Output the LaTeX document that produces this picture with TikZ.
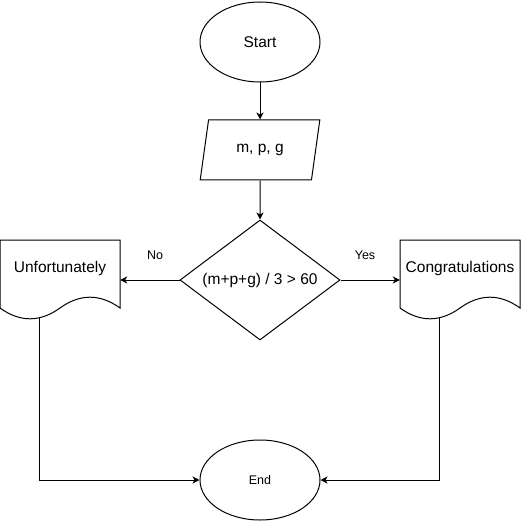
\documentclass[tikz,border=0pt]{standalone}
\usepackage{fontspec}
\setmainfont{Liberation Sans}
\usetikzlibrary{shapes.geometric,arrows.meta,calc}

% Document symbol: flat top, wavy bottom edge (120 x 80 box around the node centre)
\newcommand{\docwave}[1]{%
  \draw[shape line, shift={(#1.center)}]
    (-60,-40) -- (60,-40) -- (60,28)
    .. controls (40,13.6) and (20,13.6) .. (0,28)
    .. controls (-20,42.4) and (-40,42.4) .. (-60,28) -- cycle;}

\begin{document}
\begin{tikzpicture}[x=1pt,y=-1pt,
  shape line/.style={draw=black, line width=1pt},
  bigtext/.style={font=\fontsize{15.5}{18}\selectfont},
  smalltext/.style={font=\fontsize{12.5}{15}\selectfont},
  terminal/.style={ellipse, shape line, minimum width=120, minimum height=80, inner sep=0pt},
  iobox/.style={trapezium, trapezium stretches=true, shape line,
    trapezium left angle=71.565, trapezium right angle=108.435,
    minimum width=120, minimum height=60, inner sep=0pt},
  decision/.style={diamond, shape line, minimum width=160, minimum height=120,
    shape aspect=1.333, inner sep=0pt},
  docbox/.style={rectangle, draw=none, minimum width=120, minimum height=80, inner sep=0pt},
  flow/.style={draw=black, line width=1pt, -{Stealth[length=7pt,width=7pt,inset=2pt]}}]

\fill[white] (0,0) rectangle (521,521);
\useasboundingbox (0,0) rectangle (521,521);

% Main column
\node[terminal, bigtext] (start) at (260,42) {Start};
\node[iobox, bigtext] (input) at (260,150) {m, p, g};
\node[decision, bigtext] (test) at (260,280) {(m+p+g) / 3 > 60};
\node[terminal, smalltext] (finish) at (260,480) {End};

% Outcome documents
\node[docbox] (fail) at (60,280) {};
\node[docbox] (pass) at (460,280) {};
\docwave{fail}
\docwave{pass}
\node[bigtext] (failtext) at (60,268) {Unfortunately};
\node[bigtext] (passtext) at (460,268) {Congratulations};

% Exit points on the wavy bottom edges
\coordinate (failout) at ($(fail.south west)+(40,-2.4)$);
\coordinate (passout) at ($(pass.south west)+(40,-2.4)$);

% Connectors
\draw[flow] (start) -- (input);
\draw[flow] (input) -- (test);
\draw[flow] (test.west) -- (fail.east);
\draw[flow] (test.east) -- (pass.west);
\draw[flow] (failout) |- (finish.west);
\draw[flow] (passout) |- (finish.east);

% Branch labels
\node[smalltext] (nolabel) at (155,255) {No};
\node[smalltext] (yeslabel) at (365,255) {Yes};
\end{tikzpicture}
\end{document}
